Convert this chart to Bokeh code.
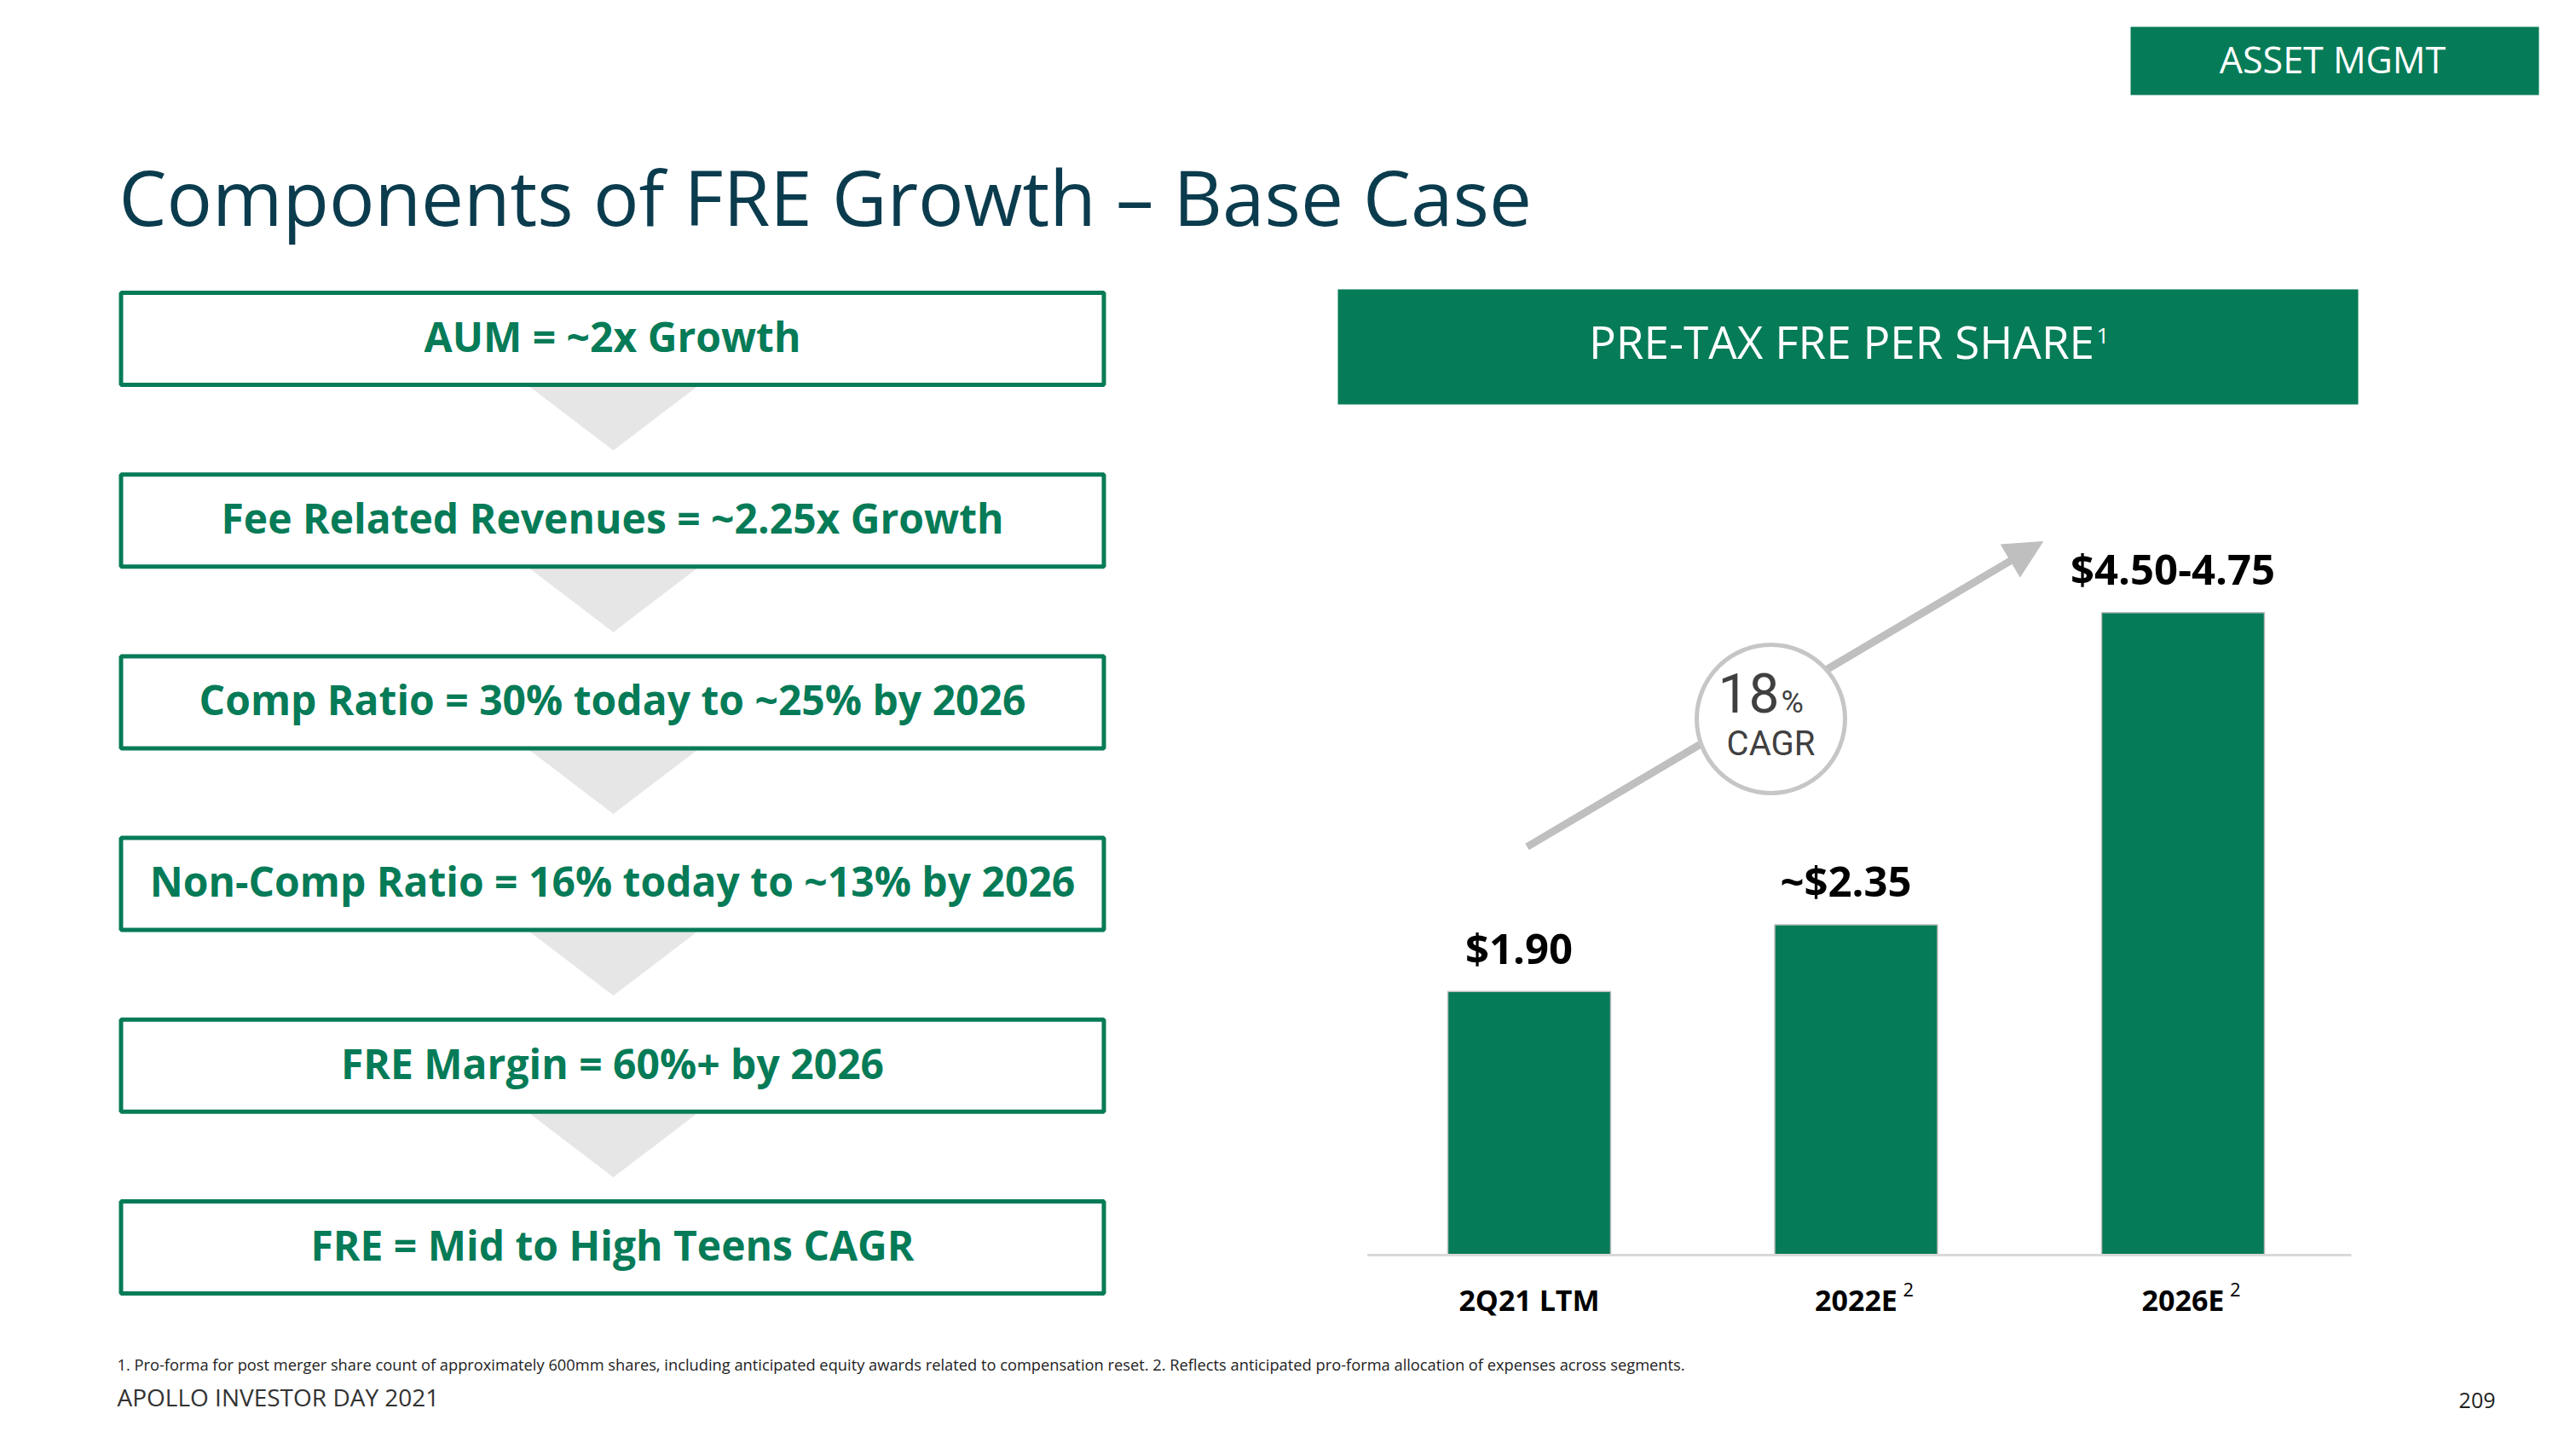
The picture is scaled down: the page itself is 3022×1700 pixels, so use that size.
from bokeh.plotting import figure
from bokeh.models import Range1d, Arrow, NormalHead
from bokeh.core.properties import value
from bokeh.embed import file_html
from bokeh.resources import INLINE

# ---------------- data ----------------
title_text = "Components of FRE Growth \u2013 Base Case"
section_tag = "ASSET MGMT"
chart_title = "PRE-TAX FRE PER SHARE"
chart_title_note = "1"
components = [
    "AUM = ~2x Growth",
    "Fee Related Revenues = ~2.25x Growth",
    "Comp Ratio = 30% today to ~25% by 2026",
    "Non-Comp Ratio = 16% today to ~13% by 2026",
    "FRE Margin = 60%+ by 2026",
    "FRE = Mid to High Teens CAGR",
]
categories = ["2Q21 LTM", "2022E", "2026E"]
category_notes = ["", "2", "2"]
fre_per_share = [1.90, 2.38, 4.63]
value_labels = ["$1.90", "~$2.35", "$4.50-4.75"]
cagr_value = "18"
cagr_unit = "%"
cagr_label = "CAGR"
footnote = ("1. Pro-forma for post merger share count of approximately 600mm shares, including anticipated "
            "equity awards related to compensation reset. 2. Reflects anticipated pro-forma allocation of "
            "expenses across segments.")
footer_left = "APOLLO INVESTOR DAY 2021"
page_number = "209"

# ---------------- styles ----------------
GREEN = "#067b57"
TITLE_C = "#0b3c4e"
GRAY_ARROW = "#bfbfbf"
FONT = value("Open Sans")
NARROW = value("Roboto")
BASE_FIX = 0.40   # baseline correction (em) for alphabetic text placement

W, H = 3006, 1684
p = figure(width=W, height=H, x_range=Range1d(0, W), y_range=Range1d(H, 0),
           output_backend="svg", toolbar_location=None,
           x_axis_location=None, y_axis_location=None, min_border=0,
           background_fill_color="white", border_fill_color="white")
p.outline_line_color = None
p.grid.visible = False

# chart scales (bar chart lives in its own ranges)
BAR_X0, BAR_DX = 1793.5, 383.5
BASE_Y, PX_PER_UNIT = 1472.0, 162.8
p.extra_x_ranges = {"cat": Range1d((0 - BAR_X0) / BAR_DX, (W - BAR_X0) / BAR_DX)}
p.extra_y_ranges = {"val": Range1d((BASE_Y - H) / PX_PER_UNIT, (BASE_Y - 0) / PX_PER_UNIT)}


def txt(x, y, text, size, y_offset=0, **kw):
    kw.setdefault("text_font", FONT)
    kw.setdefault("text_align", "left")
    return p.text(x=x, y=y, text=text, text_font_size=f"{size}px",
                  y_offset=y_offset - BASE_FIX * size, text_baseline="alphabetic", **kw)


# ---------------- title & tag ----------------
txt([139], [266], [title_text], 89, text_color=TITLE_C)
p.rect(x=[2738.5], y=[71], width=479, height=80, fill_color=GREEN, line_color=None)
txt([2736], [86], [section_tag], 43, text_color="white", text_align="center")

# ---------------- left flow boxes ----------------
box_x, box_w, box_h = 718, 1153, 108
box_y = [397 + 213.2 * i for i in range(len(components))]
tri_xs = [[618, 820, 719] for _ in box_y[:-1]]
tri_ys = [[y + 54, y + 54, y + 131] for y in box_y[:-1]]
p.patches(tri_xs, tri_ys, fill_color="#e6e6e6", line_color=None)
p.rect(x=[box_x] * len(box_y), y=box_y, width=box_w, height=box_h,
       fill_color="white", line_color=GREEN, line_width=5)
txt([box_x] * len(box_y), [y + 16 for y in box_y], components, 48,
    text_font_style="bold", text_color=GREEN, text_align="center")

# ---------------- chart header ----------------
p.rect(x=[2167.5], y=[406.5], width=1197, height=135, fill_color=GREEN, line_color=None)
txt([2160], [421], [chart_title], 53, text_color="white", text_align="center")
txt([2459], [404], [chart_title_note], 26, text_color="white")

# ---------------- CAGR arrow & badge ----------------
arrow = Arrow(x_start=1791, y_start=993, x_end=2396, y_end=635,
              line_color=GRAY_ARROW, line_width=9,
              end=NormalHead(size=44, fill_color=GRAY_ARROW, line_color=GRAY_ARROW),
              level="underlay")
p.add_layout(arrow)
p.circle(x=[2077], y=[843], radius=87, fill_color="white", line_color="#c6c6c6", line_width=5)
txt([2087], [838], [cagr_value], 64, text_font=NARROW, text_color="#404040", text_align="right")
txt([2089], [838], [cagr_unit], 36, text_font=NARROW, text_color="#404040")
txt([2077], [888], [cagr_label], 40, text_font=NARROW, text_color="#404040", text_align="center")

# ---------------- bars ----------------
idx = list(range(len(categories)))
p.vbar(x=idx, top=fre_per_share, bottom=0, width=0.498,
       x_range_name="cat", y_range_name="val",
       fill_color=GREEN, line_color="#bdbdbd", line_width=1.5)
p.segment(x0=[-0.495], y0=[0], x1=[2.515], y1=[0], x_range_name="cat", y_range_name="val",
          line_color="#d9d9d9", line_width=3)
txt(idx, fre_per_share, value_labels, 49, y_offset=-32, x_offset=-12,
    x_range_name="cat", y_range_name="val",
    text_font_style="bold", text_color="black", text_align="center")
txt(idx, [0] * len(idx), categories, 34, y_offset=66, x_range_name="cat", y_range_name="val",
    text_font_style="bold", text_color="black", text_align="center")
txt(idx, [0] * len(idx), category_notes, 22, y_offset=49, x_offset=55,
    x_range_name="cat", y_range_name="val", text_color="black")

# ---------------- footer ----------------
txt([137], [1607], [footnote], 18.3, text_color="#222222")
txt([137], [1650], [footer_left], 28, text_color="#333333")
txt([2927], [1652], [page_number], 25, text_color="#222222", text_align="right")

open("out.html", "w").write(file_html(p, INLINE))
